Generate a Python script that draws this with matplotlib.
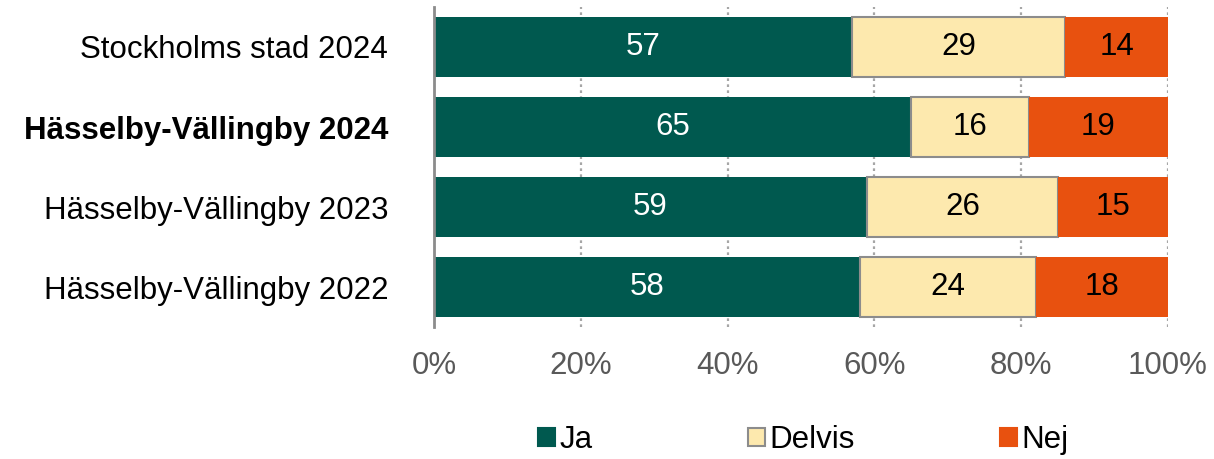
import matplotlib
matplotlib.use("Agg")
import matplotlib.pyplot as plt
from matplotlib.patches import Patch
import numpy as np

plt.rcParams['font.family'] = ['Liberation Sans', 'DejaVu Sans']

categories = ["Stockholms stad 2024", "Hässelby-Vällingby 2024",
              "Hässelby-Vällingby 2023", "Hässelby-Vällingby 2022"]
ja = [57, 65, 59, 58]
delvis = [29, 16, 26, 24]
nej = [14, 19, 15, 18]
series_names = ["Ja", "Delvis", "Nej"]
tick_labels = ["0%", "20%", "40%", "60%", "80%", "100%"]

colors = ["#00594F", "#FDE9AE", "#E8510F"]
edges = ["none", "#8C8C8C", "none"]
text_colors = ["white", "black", "black"]
FS = 22.5

fig = plt.figure(figsize=(12.14, 4.59), dpi=100)
ax = fig.add_axes([434 / 1214, 1 - 327 / 459, (1168 - 434) / 1214, 320 / 459])

y = np.arange(len(categories))
left = np.zeros(len(categories))
for vals, name, c, ec, tc in zip([ja, delvis, nej], series_names, colors, edges, text_colors):
    vals = np.array(vals, dtype=float)
    bars = ax.barh(y, vals, left=left, height=0.75, color=c, edgecolor=ec,
                   linewidth=1.5 if ec != "none" else 0, zorder=2)
    ax.bar_label(bars, labels=[f"{v:g}" for v in vals], label_type="center",
                 color=tc, fontsize=FS)
    left += vals

ax.set_xlim(0, 100)
ax.set_ylim(3.5, -0.5)
ax.set_xticks(np.arange(0, 101, 20))
ax.set_xticklabels(tick_labels, fontsize=FS, color="#595959")
ax.set_yticks(y)
ax.set_yticklabels(categories, fontsize=FS, color="black")
ax.get_yticklabels()[1].set_fontweight("bold")
ax.tick_params(axis="both", length=0)
ax.tick_params(axis="y", pad=33)
ax.tick_params(axis="x", pad=17)

ax.grid(axis="x", color="#A6A6A6", linestyle=(0, (1.2, 1.5)), linewidth=1.6, zorder=0)
for s in ["top", "right", "bottom"]:
    ax.spines[s].set_visible(False)
ax.spines["left"].set_color("#8C8C8C")
ax.spines["left"].set_linewidth(2)
ax.spines["left"].set_zorder(3)

# one legend per entry so each sits at its own position
legend_x = [538, 748, 1000]
for name, c, ec, lx in zip(series_names, colors, edges, legend_x):
    h = Patch(facecolor=c, edgecolor=ec if ec != "none" else c, linewidth=1.5)
    fig.legend([h], [name], loc="center left", bbox_to_anchor=(lx / 1214, 1 - 440 / 459),
               frameon=False, fontsize=FS, handlelength=0.55, handleheight=0.55,
               handletextpad=0.15, borderpad=0, borderaxespad=0)

fig.savefig("out.png", dpi=100)
